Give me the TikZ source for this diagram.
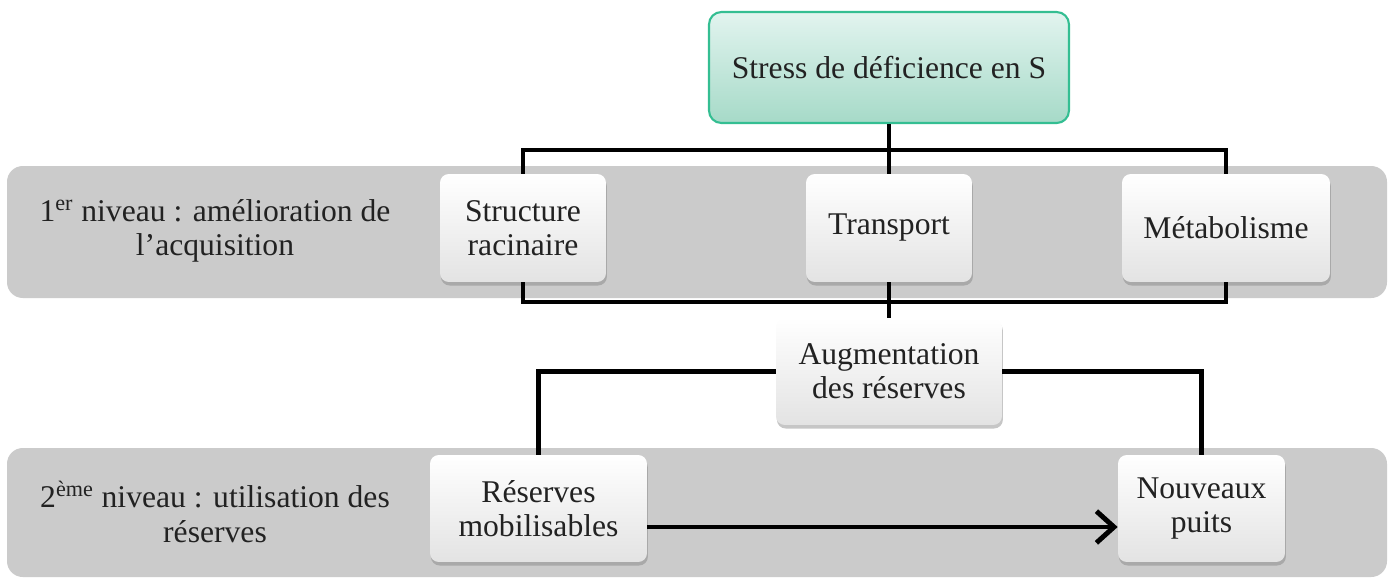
\documentclass[tikz,border=0pt]{standalone}
\usepackage{fontspec}
\setmainfont{Liberation Serif}
\usetikzlibrary{shadows,arrows.meta}
\definecolor{bandgray}{RGB}{203,203,203}
\definecolor{stressline}{RGB}{52,190,146}
\definecolor{stresstop}{RGB}{226,244,239}
\definecolor{stressbot}{RGB}{166,218,200}
\definecolor{txt}{RGB}{34,34,34}
\begin{document}
\begin{tikzpicture}[x=0.02cm, y=-0.02cm,
        every node/.style={font=\fontsize{18}{19.5}\selectfont, text=txt, align=center},
        box/.style={rounded corners=5pt, top color=white, bottom color=gray!22,
            drop shadow={shadow xshift=0.5pt, shadow yshift=-2pt, opacity=0.45},
            minimum height=2.16cm, inner sep=2pt},
        link/.style={line width=2.8pt}]
                \useasboundingbox (0,0) rectangle (1394,579);
                \fill[bandgray, rounded corners=9pt] (7,166) rectangle (1387,298);
                \fill[bandgray, rounded corners=9pt] (7,448) rectangle (1387,577);

                \node (niv1) at (215,231) {1\textsuperscript{er} niveau : amélioration de\\l’acquisition};
                \node (niv2) at (215,512) {2\textsuperscript{ème} niveau : utilisation des\\réserves};

                \node[draw=stressline, line width=1.2pt, rounded corners=7pt, top color=stresstop, bottom color=stressbot,
                    minimum width=7.2cm, minimum height=2.22cm] (stress) at (889,67.5) {Stress de déficience en S};
                \node[box, minimum width=3.32cm] (racine) at (523,228) {Structure\\racinaire};
                \node[box, minimum width=3.32cm] (transport) at (889,228) {Transport};
                \node[box, minimum width=4.16cm] (metab) at (1226,228) {Métabolisme};
                \node[box, minimum width=4.52cm, minimum height=2.14cm] (augment) at (889,371.5) {Augmentation\\des réserves};
                \node[box, minimum width=4.34cm, minimum height=2.14cm] (reserves) at (538.5,508.5) {Réserves\\mobilisables};
                \node[box, minimum width=3.34cm, minimum height=2.14cm] (puits) at (1201.5,508.5) {Nouveaux\\puits};

                \coordinate (hautbar) at (889,150);
                \coordinate (basbar) at (889,302);

                \draw[link] (stress.south) -- (transport.north);
                \draw[link] (racine.north) |- (hautbar) -| (metab.north);
                \draw[link] (racine.south) |- (basbar) -| (metab.south);
                \draw[link] (transport.south) -- (augment.north);
                \draw[link] (augment.west) -| (reserves.north);
                \draw[link] (augment.east) -| (puits.north);
                \draw[link, -{Straight Barb[length=10pt, width=18pt, line width=2.8pt]}] ([yshift=-0.37cm]reserves.east) -- ([yshift=-0.37cm]puits.west);
            \end{tikzpicture}
\end{document}
